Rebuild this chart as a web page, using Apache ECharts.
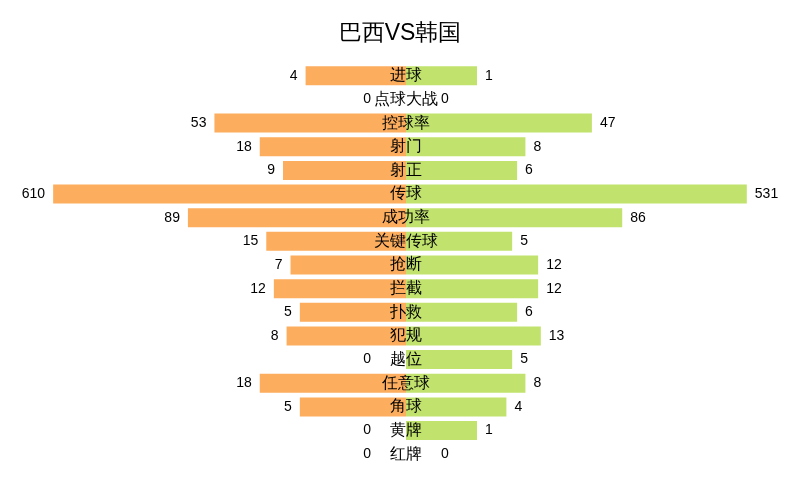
<!DOCTYPE html>
<html>
<head>
<meta charset="utf-8">
<title>巴西VS韩国</title>
<script src="https://cdn.jsdelivr.net/npm/echarts@6/dist/echarts.min.js"></script>
<style>
html,body{margin:0;padding:0;background:#fff;}
#main{width:800px;height:500px;}
</style>
</head>
<body>
<div id="main"></div>
<script>
// 技术统计
var categories = ['进球','点球大战','控球率','射门','射正','传球','成功率','关键传球','抢断','拦截','扑救','犯规','越位','任意球','角球','黄牌','红牌'];
var brazil = [4, 0, 53, 18, 9, 610, 89, 15, 7, 12, 5, 8, 0, 18, 5, 0, 0];
var korea = [1, 0, 47, 8, 6, 531, 86, 5, 12, 12, 6, 13, 5, 8, 4, 1, 0];

// 条长按四次方根缩放, 标签显示原值
function toBar(arr, sign, offset){
	var out = [];
	for(var i = 0; i < arr.length; i++){
		var item = {value: sign * Math.pow(arr[i], 0.25), raw: arr[i]};
		if(arr[i] == 0){
			item.value = 0;
			item.label = {offset: [offset, 0]};
		}
		out.push(item);
	}
	return out;
}
var blank = [];
for(var i = 0; i < categories.length; i++){ blank.push(0); }

var myChart = echarts.init(document.getElementById('main'));
var option = {
	animation: false,
	title: {
		text: '巴西VS韩国',
		left: 'center',
		top: 17,
		textStyle: {fontSize: 23, fontWeight: 'normal', color: '#000'}
	},
	grid: {left: 51, right: 39, top: 64, bottom: 34},
	xAxis: {
		type: 'value',
		min: -5,
		max: 5,
		show: false
	},
	yAxis: {
		type: 'category',
		data: categories,
		inverse: true,
		show: false
	},
	series: [
		{
			name: '巴西',
			type: 'bar',
			barWidth: 19,
			barGap: '-100%',
			itemStyle: {color: '#fcad5d'},
			label: {
				show: true,
				position: 'left',
				distance: 8,
				fontSize: 14,
				color: '#000',
				formatter: function(p){ return p.data.raw; }
			},
			data: toBar(brazil, -1, -27)
		},
		{
			name: '韩国',
			type: 'bar',
			barWidth: 19,
			barGap: '-100%',
			itemStyle: {color: '#c1e36e'},
			label: {
				show: true,
				position: 'right',
				distance: 8,
				fontSize: 14,
				color: '#000',
				formatter: function(p){ return p.data.raw; }
			},
			data: toBar(korea, 1, 27)
		},
		{
			name: '项目',
			type: 'bar',
			barWidth: 19,
			barGap: '-100%',
			label: {
				show: true,
				position: 'inside',
				fontSize: 16,
				color: '#000',
				formatter: '{b}'
			},
			data: blank
		}
	]
};
myChart.setOption(option);
</script>
</body>
</html>
